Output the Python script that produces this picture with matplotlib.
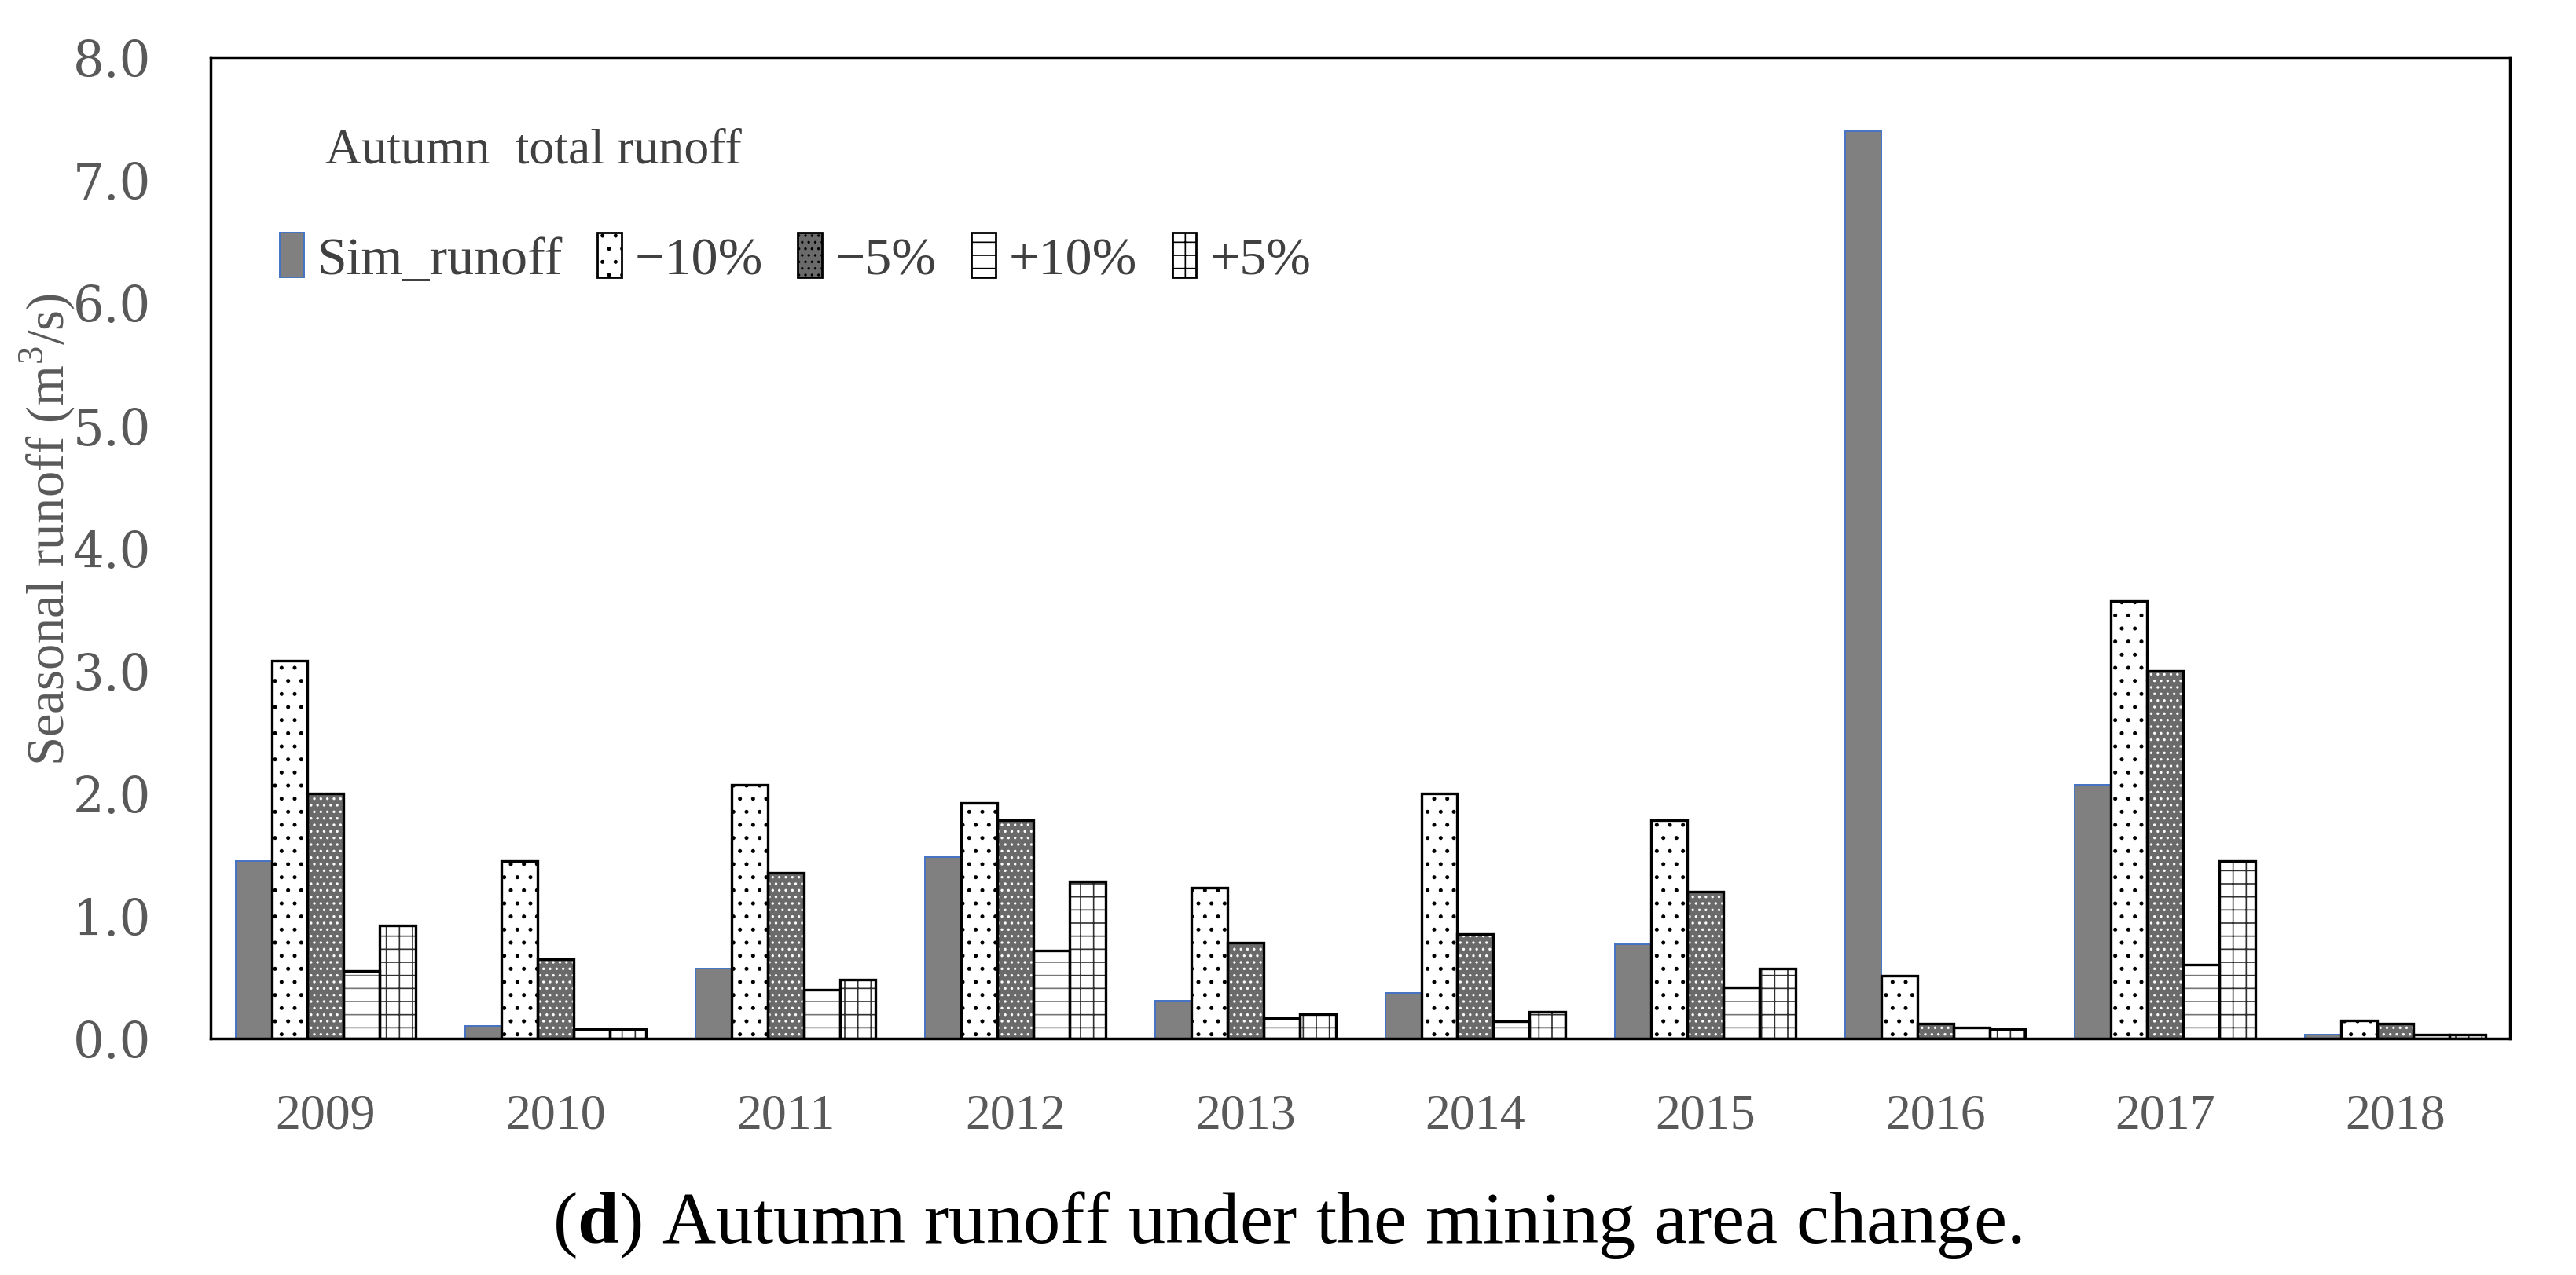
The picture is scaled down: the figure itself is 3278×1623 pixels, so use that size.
import numpy as np
import matplotlib
matplotlib.use("Agg")
import matplotlib.pyplot as plt
from matplotlib.patches import Patch

# ── data ─────────────────────────────────────────────────────────────────────
YEARS     = ["2009", "2010", "2011", "2012", "2013", "2014", "2015", "2016", "2017", "2018"]
SIM       = [1.45, 0.10, 0.57, 1.48, 0.31, 0.37, 0.77, 7.40, 2.07, 0.03]
MINUS_10  = [3.08, 1.45, 2.07, 1.92, 1.23, 2.00, 1.78, 0.51, 3.57, 0.15]
MINUS_5   = [2.00, 0.65, 1.35, 1.78, 0.78, 0.85, 1.20, 0.12, 3.00, 0.12]
PLUS_10   = [0.55, 0.08, 0.40, 0.72, 0.17, 0.14, 0.42, 0.09, 0.60, 0.03]
PLUS_5    = [0.92, 0.08, 0.48, 1.28, 0.20, 0.22, 0.57, 0.08, 1.45, 0.03]
YTICKS    = [0.0, 1.0, 2.0, 3.0, 4.0, 5.0, 6.0, 7.0, 8.0]
LABELS    = ["Sim_runoff", "\u221210%", "\u22125%", "+10%", "+5%"]

SERIF = ["Liberation Serif", "DejaVu Serif"]
plt.rcParams["font.family"] = SERIF
plt.rcParams["mathtext.fontset"] = "custom"
plt.rcParams["mathtext.rm"] = "Liberation Serif"
plt.rcParams["mathtext.bf"] = "Liberation Serif:bold"
plt.rcParams["hatch.linewidth"] = 1.2

GREY_TXT = "#595959"


def thick_hatch(draw, lw):
    # hatch linewidth is read from rcParams when the gc is built -> wrap draw
    def _draw(renderer):
        with plt.rc_context({"hatch.linewidth": lw}):
            draw(renderer)
    return _draw


fig = plt.figure(figsize=(32.78, 16.24), dpi=100)
ax = fig.add_axes([0.0818, 0.1853, 0.8926, 0.769])

x = np.arange(len(YEARS))
w = 0.157
offs = (np.arange(5) - 2) * w

# series styles: (values, face, hatch, hatch colour, outline colour)
series = [
    (SIM,      "#808080", None, None,      "#4472C4"),
    (MINUS_10, "white",   ".",  "black",   "black"),
    (MINUS_5,  "#6a6a6a", "..", "white",   "black"),
    (PLUS_10,  "white",   "-",  "#767676", "black"),
    (PLUS_5,   "white",   "+",  "#303030", "black"),
]

for k, (vals, fc, hatch, hc, ec) in enumerate(series):
    if hatch is None:
        ax.bar(x + offs[k], vals, w, color=fc, edgecolor=ec, linewidth=1.4, zorder=2)
        continue
    # fill + hatch first, then the black outline on top
    bars = ax.bar(x + offs[k], vals, w, color=fc, edgecolor=hc, hatch=hatch,
                  linewidth=0, zorder=2)
    if hatch == "-":
        for b in bars:
            b.draw = thick_hatch(b.draw, 4.0)
    ax.bar(x + offs[k], vals, w, color="none", edgecolor=ec, linewidth=2.4, zorder=3)

ax.set_xlim(-0.5, len(YEARS) - 0.5)
ax.set_ylim(0, 8.0)
ax.set_yticks(YTICKS)
ax.set_yticklabels([f"{t:.1f}" for t in YTICKS], family=["DejaVu Serif"], fontsize=45)
ax.set_xticks(x)
ax.set_xticklabels(YEARS, fontsize=46)
ax.tick_params(axis="both", length=0, colors=GREY_TXT)
ax.tick_params(axis="x", pad=50)
ax.tick_params(axis="y", pad=55)
for s in ax.spines.values():
    s.set_linewidth(2.5)
    s.set_color("black")

ax.set_ylabel("Seasonal runoff (m$^3$/s)", fontsize=48, color=GREY_TXT)
ax.yaxis.set_label_coords(-0.058, 0.52)

# legend title + one-row legend
ax.text(0.0499, 0.905, "Autumn  total runoff", transform=ax.transAxes,
        fontsize=46, color="#404040", ha="left", va="center")
handles = []
for vals, fc, hatch, hc, ec in series:
    if hatch is None:
        handles.append(Patch(facecolor=fc, edgecolor=ec, linewidth=1.4))
    else:
        handles.append(Patch(facecolor=fc, edgecolor="black", hatch=hatch, linewidth=2.0))
leg = ax.legend(handles, LABELS, loc="center left", bbox_to_anchor=(0.030, 0.795),
                ncol=5, frameon=False, fontsize=49, handlelength=0.45, handleheight=0.9,
                handletextpad=0.25, columnspacing=0.65, borderaxespad=0, borderpad=0)
for t in leg.get_texts():
    t.set_color("#404040")

# caption
fig.text(0.4995, 0.026, r"($\mathbf{d}$) Autumn runoff under the mining area change.",
         ha="center", va="baseline", fontsize=68, color="black")

fig.savefig("out.png", dpi=100)
